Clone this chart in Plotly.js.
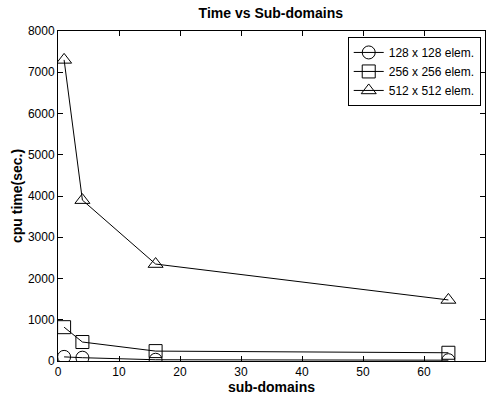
<!DOCTYPE html>
<html><head><meta charset="utf-8">
<script src="https://cdn.plot.ly/plotly-3.0.1.min.js"></script>
<style>html,body{margin:0;padding:0;background:#fff}#c{width:488px;height:398px}</style>
</head><body><div id="c"></div>
<script>
const subdomains = [1, 4, 16, 64];
const cpu128 = [100, 80, 30, 20];
const cpu256 = [820, 460, 240, 200];
const cpu512 = [7300, 3900, 2350, 1480];
const names = ['128 x 128 elem.', '256 x 256 elem.', '512 x 512 elem.'];
const xTicks = [0, 10, 20, 30, 40, 50, 60, 70];
const yTicks = [0, 1000, 2000, 3000, 4000, 5000, 6000, 7000, 8000];

const symbols = ['circle-open', 'square-open', 'triangle-up-open'];
const series = [cpu128, cpu256, cpu512];
const traces = series.map((ys, i) => ({
  x: subdomains, y: ys, name: names[i], type: 'scatter', mode: 'lines+markers',
  line: {color: '#000', width: 1},
  marker: {symbol: symbols[i], size: 13, color: '#000', line: {color: '#000', width: 1}}
}));

const F = 'Liberation Sans, Arial';
const axisCommon = {
  showline: true, mirror: 'ticks', linecolor: '#000', linewidth: 1,
  ticks: 'inside', ticklen: 5, tickcolor: '#000', showgrid: false, zeroline: false,
  tickfont: {family: F, size: 12, color: '#000'}
};
const layout = {
  width: 488, height: 398,
  margin: {l: 58, r: 3, t: 31, b: 37},
  paper_bgcolor: '#fff', plot_bgcolor: '#fff',
  title: {text: '<b>Time vs Sub-domains</b>', x: 0.555, xanchor: 'center', y: 0.98, yanchor: 'top',
          font: {family: F, size: 14, color: '#000'}},
  xaxis: Object.assign({}, axisCommon, {range: [0, 70], tickvals: xTicks,
    title: {text: '<b>sub-domains</b>', standoff: 1, font: {family: F, size: 14, color: '#000'}}}),
  yaxis: Object.assign({}, axisCommon, {range: [0, 8000], tickvals: yTicks,
    title: {text: '<b>cpu time(sec.)</b>', standoff: 1, font: {family: F, size: 14, color: '#000'}}}),
  showlegend: true,
  legend: {x: 0.99, xanchor: 'right', y: 0.982, yanchor: 'top', bgcolor: '#fff',
           bordercolor: '#000', borderwidth: 1, tracegroupgap: 0,
           font: {family: F, size: 12, color: '#000'}, itemwidth: 30}
};
Plotly.newPlot('c', traces, layout, {displayModeBar: false, staticPlot: true});
</script></body></html>
